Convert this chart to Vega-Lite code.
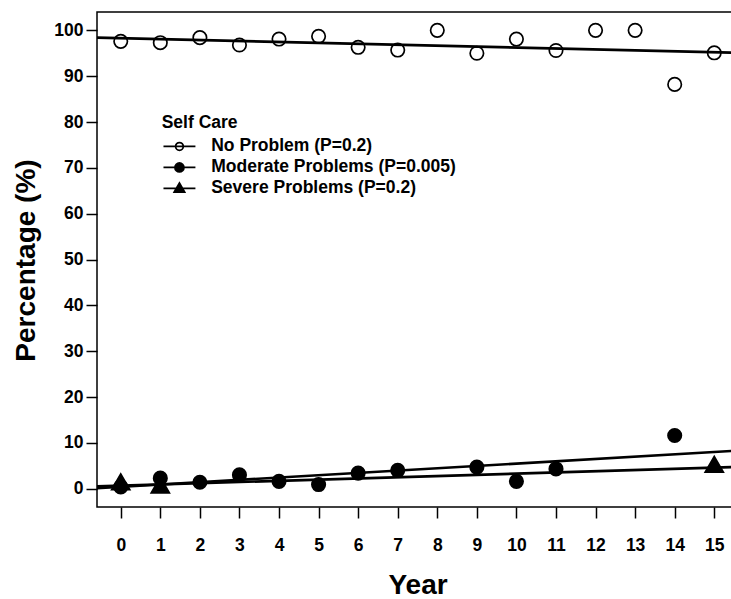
{
  "$schema": "https://vega.github.io/schema/vega-lite/v6.json",
  "width": 641,
  "height": 495,
  "autosize": {"type": "none"},
  "padding": {"left": 97, "top": 12, "right": 0, "bottom": 92},
  "background": "white",
  "config": {
    "font": "Liberation Sans",
    "view": {"stroke": "black", "strokeWidth": 1.5},
    "axis": {
      "grid": false,
      "domain": false,
      "tickColor": "black",
      "tickWidth": 1.5,
      "tickSize": 11,
      "labelFont": "Liberation Sans",
      "labelFontSize": 17.5,
      "labelFontWeight": "bold",
      "labelColor": "black",
      "labelFlush": false,
      "labelOverlap": false,
      "titleFont": "Liberation Sans",
      "titleFontWeight": "bold",
      "titleColor": "black"
    },
    "legend": {
      "orient": "none",
      "legendX": 64.7,
      "legendY": 101.7,
      "titleFont": "Liberation Sans",
      "titleFontSize": 17.5,
      "titleFontWeight": "bold",
      "titleColor": "black",
      "titlePadding": 6.5,
      "labelFont": "Liberation Sans",
      "labelFontSize": 17.5,
      "labelFontWeight": "bold",
      "labelColor": "black",
      "labelLimit": 400,
      "labelOffset": 23,
      "symbolOffset": 9,
      "symbolSize": 81,
      "symbolStrokeColor": "black",
      "symbolStrokeWidth": 1.8,
      "symbolOpacity": 1,
      "rowPadding": 2,
      "padding": 0
    }
  },
  "datasets": {
    "points": [
      {"year": 0, "pct": 97.6, "series": "No Problem (P=0.2)"},
      {"year": 1, "pct": 97.3, "series": "No Problem (P=0.2)"},
      {"year": 2, "pct": 98.4, "series": "No Problem (P=0.2)"},
      {"year": 3, "pct": 96.8, "series": "No Problem (P=0.2)"},
      {"year": 4, "pct": 98.1, "series": "No Problem (P=0.2)"},
      {"year": 5, "pct": 98.7, "series": "No Problem (P=0.2)"},
      {"year": 6, "pct": 96.3, "series": "No Problem (P=0.2)"},
      {"year": 7, "pct": 95.7, "series": "No Problem (P=0.2)"},
      {"year": 8, "pct": 100, "series": "No Problem (P=0.2)"},
      {"year": 9, "pct": 95.0, "series": "No Problem (P=0.2)"},
      {"year": 10, "pct": 98.1, "series": "No Problem (P=0.2)"},
      {"year": 11, "pct": 95.6, "series": "No Problem (P=0.2)"},
      {"year": 12, "pct": 100, "series": "No Problem (P=0.2)"},
      {"year": 13, "pct": 100, "series": "No Problem (P=0.2)"},
      {"year": 14, "pct": 88.2, "series": "No Problem (P=0.2)"},
      {"year": 15, "pct": 95.1, "series": "No Problem (P=0.2)"},
      {"year": 0, "pct": 0.4, "series": "Moderate Problems (P=0.005)"},
      {"year": 1, "pct": 2.3, "series": "Moderate Problems (P=0.005)"},
      {"year": 2, "pct": 1.4, "series": "Moderate Problems (P=0.005)"},
      {"year": 3, "pct": 3.0, "series": "Moderate Problems (P=0.005)"},
      {"year": 4, "pct": 1.6, "series": "Moderate Problems (P=0.005)"},
      {"year": 5, "pct": 0.9, "series": "Moderate Problems (P=0.005)"},
      {"year": 6, "pct": 3.4, "series": "Moderate Problems (P=0.005)"},
      {"year": 7, "pct": 4.0, "series": "Moderate Problems (P=0.005)"},
      {"year": 9, "pct": 4.7, "series": "Moderate Problems (P=0.005)"},
      {"year": 10, "pct": 1.6, "series": "Moderate Problems (P=0.005)"},
      {"year": 11, "pct": 4.3, "series": "Moderate Problems (P=0.005)"},
      {"year": 14, "pct": 11.6, "series": "Moderate Problems (P=0.005)"},
      {"year": 0, "pct": 1.5, "series": "Severe Problems (P=0.2)"},
      {"year": 1, "pct": 0.8, "series": "Severe Problems (P=0.2)"},
      {"year": 15, "pct": 5.3, "series": "Severe Problems (P=0.2)"}
    ],
    "trends": [
      {"year": -0.6, "pct": 98.4, "series": "No Problem (P=0.2)"},
      {"year": 15.6, "pct": 95.1, "series": "No Problem (P=0.2)"},
      {"year": -0.6, "pct": 0.1, "series": "Moderate Problems (P=0.005)"},
      {"year": 15.6, "pct": 8.3, "series": "Moderate Problems (P=0.005)"},
      {"year": -0.6, "pct": 0.5, "series": "Severe Problems (P=0.2)"},
      {"year": 15.6, "pct": 4.75, "series": "Severe Problems (P=0.2)"}
    ]
  },
  "layer": [
    {
      "data": {"name": "trends"},
      "mark": {"type": "line", "color": "black", "strokeWidth": 2.6, "clip": true},
      "encoding": {
        "x": {
          "field": "year", "type": "quantitative",
          "scale": {"domain": [-0.6, 15.6], "nice": false, "zero": false},
          "axis": {
            "values": [0, 1, 2, 3, 4, 5, 6, 7, 8, 9, 10, 11, 12, 13, 14, 15],
            "labelPadding": 18.5,
            "title": "Year",
            "titleFontSize": 28,
            "titleBaseline": "alphabetic",
            "titleY": 86
          }
        },
        "y": {
          "field": "pct", "type": "quantitative",
          "scale": {"domain": [-4, 104], "nice": false, "zero": false},
          "axis": {
            "values": [0, 10, 20, 30, 40, 50, 60, 70, 80, 90, 100],
            "labelPadding": 3,
            "title": "Percentage (%)",
            "titleFontSize": 28,
            "titleAngle": -90,
            "titleBaseline": "alphabetic",
            "titleAlign": "center",
            "titleX": -63,
            "titleY": 248
          }
        },
        "detail": {"field": "series", "type": "nominal"}
      }
    },
    {
      "data": {"name": "points"},
      "mark": {"type": "point", "filled": true, "stroke": "black", "strokeWidth": 1.7, "opacity": 1},
      "encoding": {
        "x": {"field": "year", "type": "quantitative"},
        "y": {"field": "pct", "type": "quantitative"},
        "size": {
          "condition": {"test": "datum.series === 'Severe Problems (P=0.2)'", "value": 330},
          "value": 180
        },
        "fill": {
          "condition": {"test": "datum.series === 'No Problem (P=0.2)'", "value": "transparent"},
          "value": "black"
        },
        "shape": {
          "condition": {"test": "datum.series === 'Severe Problems (P=0.2)'", "value": "triangle-up"},
          "value": "circle"
        }
      }
    },
    {
      "data": {"name": "points"},
      "mark": {"type": "point", "filled": true, "strokeWidth": 1.8, "opacity": 0, "size": 81},
      "encoding": {
        "x": {"field": "year", "type": "quantitative"},
        "y": {"field": "pct", "type": "quantitative"},
        "shape": {
          "field": "series", "type": "nominal",
          "scale": {
            "domain": ["No Problem (P=0.2)", "Moderate Problems (P=0.005)", "Severe Problems (P=0.2)"],
            "range": [
              "M-3.55,0H3.55M-0.85,0A0.85,0.85,0,1,1,0.85,0A0.85,0.85,0,1,1,-0.85,0Z",
              "M-3.55,0H3.55M-1,0A1,1,0,1,1,1,0A1,1,0,1,1,-1,0Z",
              "M-3.55,0H3.55M-1.15,0.8L0,-1.2L1.15,0.8Z"
            ]
          },
          "legend": {"title": "Self Care", "orient": "none", "legendX": 64.7, "legendY": 101.7}
        },
        "fill": {
          "field": "series", "type": "nominal",
          "scale": {
            "domain": ["No Problem (P=0.2)", "Moderate Problems (P=0.005)", "Severe Problems (P=0.2)"],
            "range": ["transparent", "black", "black"]
          },
          "legend": {"title": "Self Care", "orient": "none", "legendX": 64.7, "legendY": 101.7}
        },
        "stroke": {
          "field": "series", "type": "nominal",
          "scale": {
            "domain": ["No Problem (P=0.2)", "Moderate Problems (P=0.005)", "Severe Problems (P=0.2)"],
            "range": ["black", "black", "black"]
          },
          "legend": {"title": "Self Care", "orient": "none", "legendX": 64.7, "legendY": 101.7}
        }
      }
    }
  ]
}
